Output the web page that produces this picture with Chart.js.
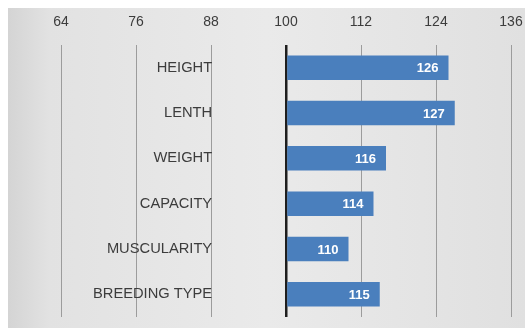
<!DOCTYPE html>
<html>
<head>
<meta charset="utf-8">
<script src="https://cdn.jsdelivr.net/npm/chart.js@4/dist/chart.umd.min.js"></script>
<style>
html,body{margin:0;padding:0;background:#fff;}
#wrap{width:525px;height:328px;position:relative;}
</style>
</head>
<body>
<div id="wrap"><canvas id="c" width="525" height="328"></canvas></div>
<script>
const categories = ["HEIGHT", "LENTH", "WEIGHT", "CAPACITY", "MUSCULARITY", "BREEDING TYPE"];
const values = [126, 127, 116, 114, 110, 115];
const axisMin = 64;
const axisMax = 136;
const axisStep = 12;
const baseValue = 100;

const bgPlugin = {
  id: 'bg',
  beforeDraw(chart) {
    const ctx = chart.ctx;
    ctx.save();
    ctx.fillStyle = '#ffffff';
    ctx.fillRect(0, 0, chart.width, chart.height);
    const g = ctx.createLinearGradient(8, 0, chart.width, 0);
    g.addColorStop(0, '#d4d4d4');
    g.addColorStop(0.08, '#e2e2e2');
    g.addColorStop(0.5, '#eaeaea');
    g.addColorStop(1, '#e0e0e0');
    ctx.fillStyle = g;
    ctx.fillRect(8, 8, chart.width - 8, chart.height - 8);
    ctx.restore();
  }
};

const valueLabels = {
  id: 'valueLabels',
  afterDatasetsDraw(chart) {
    const ctx = chart.ctx;
    const meta = chart.getDatasetMeta(0);
    ctx.save();
    ctx.fillStyle = '#ffffff';
    ctx.font = 'bold 13px "Liberation Sans", sans-serif';
    ctx.textAlign = 'right';
    ctx.textBaseline = 'middle';
    meta.data.forEach((bar, i) => {
      ctx.fillText(String(values[i]), bar.x - 10, bar.y + 1);
    });
    ctx.restore();
  }
};

new Chart(document.getElementById('c'), {
  type: 'bar',
  data: {
    labels: categories,
    datasets: [{
      data: values,
      base: baseValue,
      backgroundColor: '#4a7fbd',
      borderWidth: 0,
      categoryPercentage: 1,
      barPercentage: 0.54
    }]
  },
  options: {
    indexAxis: 'y',
    responsive: false,
    animation: false,
    devicePixelRatio: 1,
    layout: { padding: { left: 61, right: 14, top: 13, bottom: 11 } },
    plugins: { legend: { display: false }, tooltip: { enabled: false } },
    scales: {
      x: {
        position: 'top',
        min: axisMin,
        max: axisMax,
        ticks: {
          stepSize: axisStep,
          color: '#3c3c3c',
          font: { family: '"Liberation Sans", sans-serif', size: 14 },
          padding: 14
        },
        grid: {
          drawTicks: false,
          color: (c) => c.tick && c.tick.value === baseValue ? '#1e1e1e' : '#9c9c9c',
          lineWidth: (c) => c.tick && c.tick.value === baseValue ? 2.5 : 1
        },
        border: { display: false },
        afterFit(scale) {
          scale.height = 32;
          scale.paddingLeft = 0;
          scale.paddingRight = 0;
          scale.paddingTop = 0;
          scale.paddingBottom = 0;
        }
      },
      y: {
        position: 'left',
        grid: { display: false, drawTicks: false },
        border: { display: false },
        ticks: {
          mirror: true,
          crossAlign: 'far',
          padding: 32,
          color: '#3c3c3c',
          font: { family: '"Liberation Sans", sans-serif', size: 14.7 }
        },
        afterFit(scale) {
          scale.width = 0;
          scale.paddingLeft = 0;
          scale.paddingRight = 0;
          scale.paddingTop = 0;
          scale.paddingBottom = 0;
        }
      }
    }
  },
  plugins: [bgPlugin, valueLabels]
});
</script>
</body>
</html>
